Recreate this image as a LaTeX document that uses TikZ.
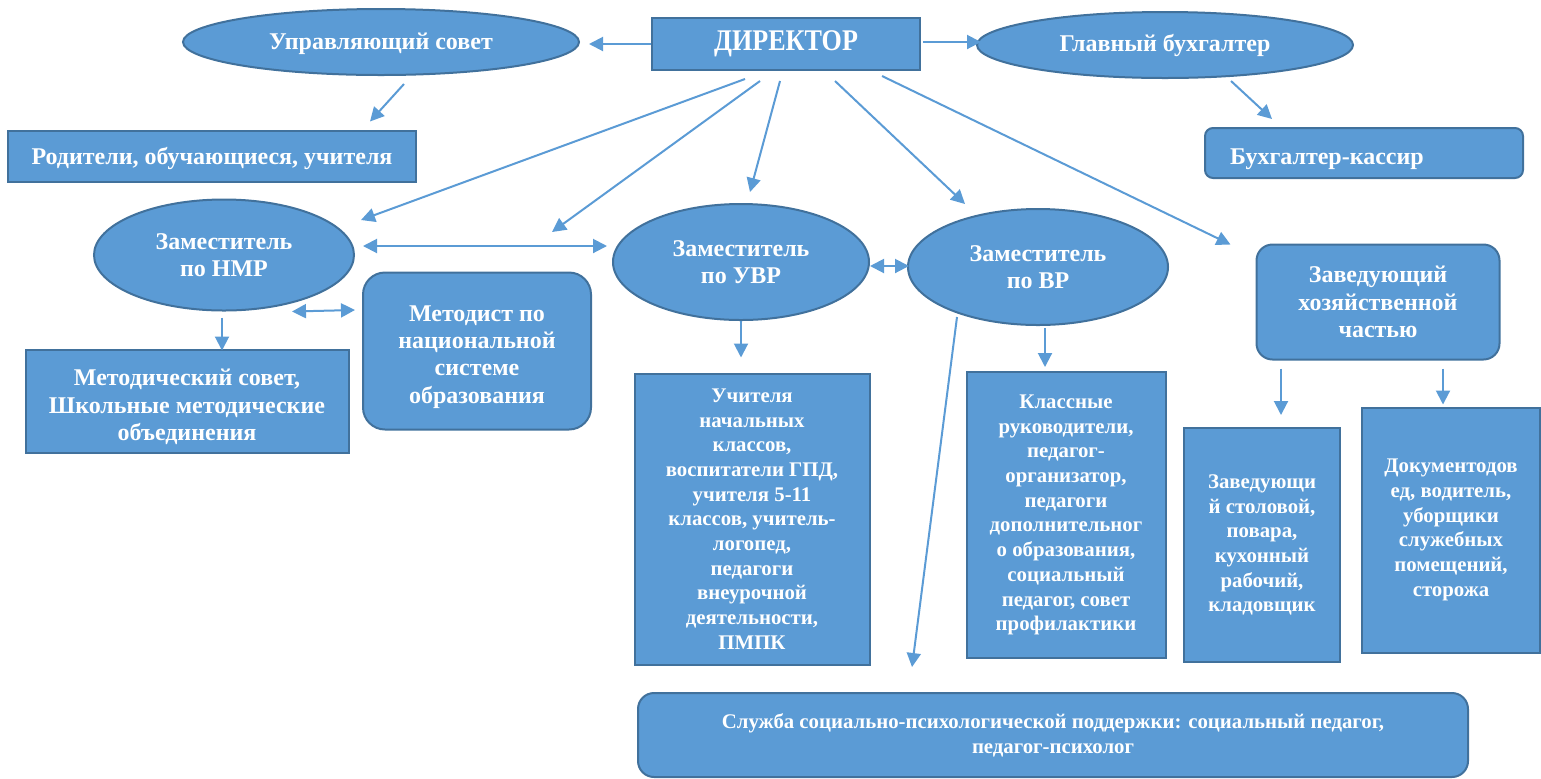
\documentclass[tikz,border=0pt]{standalone}
\usepackage{fontspec}
\setmainfont{Liberation Serif}
\newfontfamily\condf[FakeStretch=0.87]{Liberation Serif}
\usetikzlibrary{shapes.geometric,arrows.meta,calc}
\definecolor{fillb}{HTML}{5B9BD5}
\definecolor{edgeb}{HTML}{41719C}
\definecolor{arrb}{HTML}{5B9BD5}
\begin{document}
\begin{tikzpicture}[x=0.5pt,y=-0.5pt,
 base/.style={fill=fillb,draw=edgeb,line width=1pt,text=white,align=center,inner sep=0pt},
 box/.style={base,rectangle},
 rbox/.style={base,rectangle,rounded corners=9pt},
 ell/.style={base,ellipse},
 ftop/.style={font=\bfseries\fontsize{12}{14}\selectfont},
 fmid/.style={font=\bfseries\fontsize{12}{13.6}\selectfont},
 fsmall/.style={font=\bfseries\fontsize{10.4}{12.35}\selectfont},
 txt/.style={text=white,align=center,inner sep=0pt},
 arr/.style={draw=arrb,line width=1pt,-{Triangle[length=7pt,width=7pt]}},
 darr/.style={draw=arrb,line width=1pt,{Triangle[length=7pt,width=7pt]}-{Triangle[length=7pt,width=7pt]}},
]
\useasboundingbox (0,0) rectangle (1541,778);

% nodes
\node[box,minimum width=134pt,minimum height=26pt,font=\condf\bfseries\fontsize{15}{18}\selectfont] (dir) at (786,44) {ДИРЕКТОР};
\node[ell,minimum width=198pt,minimum height=33pt] (us) at (381,42) {};
\node[txt,ftop] (ust) at (381,44) {Управляющий совет};
\node[ell,ftop,minimum width=188pt,minimum height=33pt] (gb) at (1165,45) {Главный бухгалтер};
\node[box,minimum width=204pt,minimum height=25.5pt] (rod) at (212,156) {};
\node[txt,ftop] (rodt) at (212,158) {Родители, обучающиеся, учителя};
\node[rbox,rounded corners=4pt,minimum width=159pt,minimum height=25pt] (bk) at (1364,153) {};
\node[txt,ftop] (bkt) at (1327,159) {Бухгалтер-кассир};

\node[ell,fmid,minimum width=130pt,minimum height=55.5pt] (nmr) at (224,255) {Заместитель\\по НМР};
\node[ell,fmid,minimum width=128pt,minimum height=58pt] (uvr) at (741,262) {Заместитель\\по УВР};
\node[ell,fmid,minimum width=130pt,minimum height=58pt] (vr) at (1038,267) {Заместитель\\по ВР};
\node[rbox,fmid,rounded corners=8pt,minimum width=121.5pt,minimum height=57.5pt] (zh) at (1378,302) {Заведующий\\хозяйственной\\частью};
\node[rbox,rounded corners=11pt,minimum width=114pt,minimum height=78.5pt] (met) at (477,351) {};
\node[txt,fmid] (mett) at (477,357) {Методист по\\национальной\\системе\\образования};
\node[box,minimum width=161.5pt,minimum height=51.5pt] (ms) at (187,401) {};
\node[txt,fmid] (mst) at (187,407) {Методический совет,\\Школьные методические\\объединения};

\node[box,fsmall,minimum width=117.5pt,minimum height=145.5pt] (uch) at (752,519) {Учителя\\начальных\\классов,\\воспитатели ГПД,\\учителя 5-11\\классов, учитель-\\логопед,\\педагоги\\внеурочной\\деятельности,\\ПМПК};
\node[box,fsmall,minimum width=99.5pt,minimum height=143pt] (kl) at (1066,515) {Классные\\руководители,\\педагог-\\организатор,\\педагоги\\дополнительног\\о образования,\\социальный\\педагог, совет\\профилактики};
\node[box,fsmall,minimum width=78pt,minimum height=117pt] (st) at (1262,545) {Заведующи\\й столовой,\\повара,\\кухонный\\рабочий,\\кладовщик};
\node[box,fsmall,minimum width=89pt,minimum height=122.5pt] (doc) at (1451,530) {Документодов\\ед, водитель,\\уборщики\\служебных\\помещений,\\сторожа};
\node[rbox,fsmall,rounded corners=8pt,minimum width=415pt,minimum height=42pt] (sl) at (1053,735) {Служба социально-психологической поддержки: социальный педагог,\\педагог-психолог};

% connectors
\draw[arr] (dir.west) -- ($(us.east)+(9,2)$);
\draw[arr] ($(dir.east)+(2,-2)$) -- ($(gb.west)+(5,-3)$);
\draw[arr] ($(us.south)+(23,8)$) -- ($(rod.north)+(158,-8)$);
\draw[arr] ($(gb.south)+(66,2)$) -- ($(bk.north)+(-92,-8)$);

\draw[arr] ($(dir.south)+(-41,8)$) -- ($(nmr.east)+(6,-35)$);
\draw[arr] ($(dir.south)+(-26,10)$) -- ($(uvr.west)+(-60,-30)$);
\draw[arr] ($(dir.south)+(-6,10)$) -- ($(uvr.north)+(9,-11)$);
\draw[arr] ($(dir.south)+(49,10)$) -- ($(vr.north)+(-73,-4)$);
\draw[arr] ($(dir.south)+(96,5)$) -- ($(zh.north west)+(-25,1)$);

\draw[darr] ($(nmr.east)+(8,-9)$) -- ($(uvr.west)+(-5,-16)$);
\draw[darr] ($(uvr.east)+(0,4)$) -- ($(vr.west)+(2,-1)$);
\draw[darr] ($(nmr.south)+(68,0)$) -- ($(met.west)+(-7,-41)$);

\draw[arr] ($(nmr.south)+(-2,6)$) -- ($(ms.north)+(35,2)$);
\draw[arr] (uvr.south) -- ($(uch.north)+(-11,-15)$);
\draw[arr] ($(vr.south)+(-81,-9)$) -- ($(sl.north)+(-141,-25)$);
\draw[arr] ($(vr.south)+(7,2)$) -- ($(kl.north)+(-21,-4)$);
\draw[arr] ($(zh.south)+(-97,8)$) -- ($(st.north)+(19,-12)$);
\draw[arr] ($(zh.south)+(65,8)$) -- ($(doc.north)+(-8,-2)$);
\end{tikzpicture}
\end{document}
